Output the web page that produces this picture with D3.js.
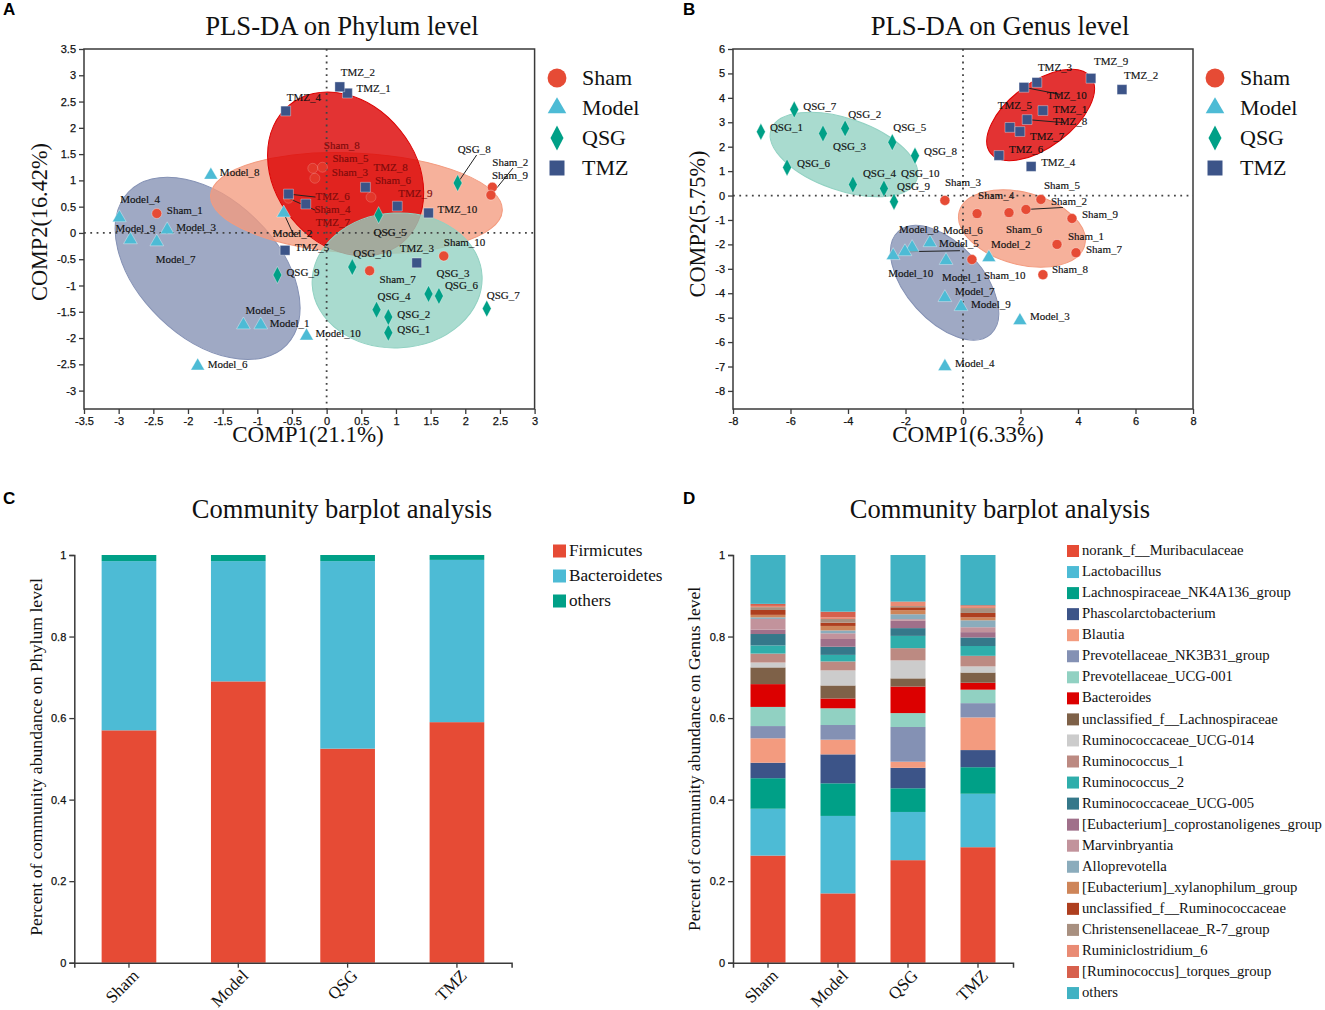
<!DOCTYPE html>
<html><head><meta charset="utf-8">
<script src="https://cdn.jsdelivr.net/npm/d3@7"></script>
<style>html,body{margin:0;padding:0;background:#fff}svg{display:block}</style>
</head><body><svg id="c" width="1325" height="1010"></svg>
<script>
// ---------- PLS-DA scores ----------
const phylumSham=[["Sham_1",-2.45,.37],["Sham_2",2.39,.87],["Sham_3",-.17,1.04],["Sham_4",-.55,.66],["Sham_5",-.06,1.25],["Sham_6",.64,.68],["Sham_7",.62,-.72],["Sham_8",-.2,1.23],["Sham_9",2.37,.72],["Sham_10",1.69,-.44]];
const phylumModel=[["Model_1",-.95,-1.75],["Model_2",-.62,.38],["Model_3",-2.3,.06],["Model_4",-2.99,.29],["Model_5",-1.2,-1.75],["Model_6",-1.86,-2.53],["Model_7",-2.45,-.17],["Model_8",-1.67,1.1],["Model_9",-2.83,-.13],["Model_10",-.29,-1.96]];
const phylumQSG=[["QSG_1",.89,-1.9],["QSG_2",.89,-1.6],["QSG_3",1.47,-1.16],["QSG_4",.72,-1.46],["QSG_5",.75,.34],["QSG_6",1.62,-1.2],["QSG_7",2.31,-1.44],["QSG_8",1.89,.95],["QSG_9",-.71,-.8],["QSG_10",.37,-.65]];
const phylumTMZ=[["TMZ_1",.3,2.66],["TMZ_2",.19,2.78],["TMZ_3",1.3,-.57],["TMZ_4",-.59,2.32],["TMZ_5",-.6,-.33],["TMZ_6",-.55,.74],["TMZ_7",-.3,.55],["TMZ_8",.56,.87],["TMZ_9",1.02,.51],["TMZ_10",1.47,.38]];
const genusSham=[["Sham_1",3.27,-2],["Sham_2",2.19,-.57],["Sham_3",-.63,-.2],["Sham_4",.49,-.74],["Sham_5",2.71,-.16],["Sham_6",1.6,-.7],["Sham_7",3.93,-2.34],["Sham_8",2.78,-3.24],["Sham_9",3.79,-.94],["Sham_10",.31,-2.62]];
const genusModel=[["Model_1",-.59,-2.66],["Model_2",.9,-2.54],["Model_3",1.98,-5.12],["Model_4",-.63,-7],["Model_5",-1.77,-2.13],["Model_6",-2.02,-2.3],["Model_7",-.63,-4.18],["Model_8",-1.15,-1.93],["Model_9",-.07,-4.55],["Model_10",-2.43,-2.46]];
const genusQSG=[["QSG_1",-7.03,2.61],["QSG_2",-4.1,2.75],["QSG_3",-4.87,2.54],["QSG_4",-3.83,.45],["QSG_5",-2.46,2.18],["QSG_6",-6.12,1.15],["QSG_7",-5.87,3.52],["QSG_8",-1.67,1.63],["QSG_9",-2.4,-.25],["QSG_10",-2.75,.29]];
const genusTMZ=[["TMZ_1",2.78,3.48],["TMZ_2",5.53,4.34],["TMZ_3",2.57,4.63],["TMZ_4",2.37,1.19],["TMZ_5",1.63,2.79],["TMZ_6",1.25,1.64],["TMZ_7",1.98,2.62],["TMZ_8",2.23,3.11],["TMZ_9",4.45,4.8],["TMZ_10",2.12,4.43]];
// ellipses: centre x, centre y, semi-axis a (x units), semi-axis b (y units)
const phylumEllipses={Model:[-1.717,-.675,1.587,1.312],Sham:[.43,.57,2.107,.95],TMZ:[.274,1.122,1.284,1.331],QSG:[1.017,-.903,1.227,1.283]};
const genusEllipses={Model:[-.64,-3.57,2.4,1.557],Sham:[2.05,-1.35,2.26,1.475],TMZ:[2.7,3.3,2.19,1.31],QSG:[-4.14,1.68,2.68,1.475]};
const groups=["Sham","Model","QSG","TMZ"];
// ---------- composition ----------
const phylumTaxa=["Firmicutes","Bacteroidetes","others"];
const phylumValues=[[.57,.415,.015],[.69,.295,.015],[.525,.46,.015],[.59,.398,.012]];
const genusTaxa=["norank_f__Muribaculaceae","Lactobacillus","Lachnospiraceae_NK4A136_group","Phascolarctobacterium","Blautia","Prevotellaceae_NK3B31_group","Prevotellaceae_UCG-001","Bacteroides","unclassified_f__Lachnospiraceae","Ruminococcaceae_UCG-014","Ruminococcus_1","Ruminococcus_2","Ruminococcaceae_UCG-005","[Eubacterium]_coprostanoligenes_group","Marvinbryantia","Alloprevotella","[Eubacterium]_xylanophilum_group","unclassified_f__Ruminococcaceae","Christensenellaceae_R-7_group","Ruminiclostridium_6","[Ruminococcus]_torques_group","others"];
const genusSham_=[.263,.115,.075,.038,.060,.030,.047,.056,.041,.012,.022,.020,.028,.011,.026,.004,.006,.012,.007,.003,.005,.120];
const genusModel_=[.170,.190,.080,.071,.036,.036,.041,.024,.032,.037,.022,.016,.020,.019,.014,.007,.011,.008,.009,.004,.014,.139];
const genusQSG_=[.251,.118,.058,.050,.015,.085,.034,.065,.020,.044,.030,.030,.019,.018,.004,.012,.010,.007,.003,.010,.001,.114];
const genusTMZ_=[.283,.131,.065,.042,.080,.035,.033,.017,.025,.015,.026,.024,.021,.013,.012,.017,.007,.011,.012,.004,.003,.123];
const xTicksPhylum=["-3.5","-3","-2.5","-2","-1.5","-1","-0.5","0","0.5","1","1.5","2","2.5","3"];
const yTicksPhylum=["-3","-2.5","-2","-1.5","-1","-0.5","0","0.5","1","1.5","2","2.5","3","3.5"];
const xTicksGenus=["-8","-6","-4","-2","0","2","4","6","8"];
const yTicksGenus=["-8","-7","-6","-5","-4","-3","-2","-1","0","1","2","3","4","5","6"];
const pctTicks=["0","0.2","0.4","0.6","0.8","1"];

// ---------- layout-only tables ----------
const labelNudgeA={Sham_1:[10,-2],Sham_2:[0,-24],Sham_9:[1,-19],Sham_8:[11,-22],Sham_5:[10,-8],Sham_3:[17,-5],Sham_6:[4,-16],Sham_4:[26,12],Sham_7:[10,10],Sham_10:[0,-13],Model_4:[1,-17],Model_9:[-15,-10],Model_3:[9,-1],Model_7:[-1,19],Model_8:[9,-2],Model_2:[-11,21],Model_5:[2,-13],Model_1:[9,0],Model_10:[9,-1],Model_6:[10,0],QSG_8:[0,-33],QSG_5:[-5,18],QSG_10:[1,-13],QSG_9:[9,-2],QSG_3:[8,-19],QSG_6:[6,-10],QSG_7:[0,-12],QSG_4:[1,-12],QSG_2:[9,-2],QSG_1:[9,-2],TMZ_2:[1,-13],TMZ_1:[9,-4],TMZ_4:[1,-13],TMZ_8:[8,-19],TMZ_9:[1,-12],TMZ_10:[9,-3],TMZ_6:[27,3],TMZ_7:[10,19],TMZ_5:[10,-2],TMZ_3:[-17,-13]};
const labelNudgeB={QSG_1:[9,-3],QSG_7:[9,-2],QSG_3:[10,14],QSG_2:[3,-13],QSG_5:[1,-14],QSG_8:[9,-3],QSG_6:[10,-3],QSG_4:[10,-10],QSG_10:[17,-14],QSG_9:[3,-14],Sham_3:[0,-17],Sham_5:[3,-13],Sham_4:[1,-17],Sham_6:[-3,18],Sham_2:[25,-7],Sham_9:[10,-3],Sham_1:[11,-7],Sham_7:[10,-2],Sham_8:[9,-4],Sham_10:[12,17],Model_8:[-31,-12],Model_5:[27,-3],Model_6:[38,-20],Model_10:[-5,19],Model_1:[-4,18],Model_2:[2,-12],Model_7:[10,-5],Model_9:[10,-1],Model_3:[10,-3],Model_4:[10,-2],TMZ_10:[23,9],TMZ_3:[1,-14],TMZ_9:[3,-16],TMZ_2:[2,-13],TMZ_1:[10,0],TMZ_8:[26,3],TMZ_5:[-12,-21],TMZ_7:[10,6],TMZ_6:[10,-5],TMZ_4:[10,-3]};
const leadersA=[["QSG_8",19,-28],["Sham_9",22,-27],["TMZ_6",27,3],["Sham_4",27,12],["Model_2",10,22]];
const leadersB=[["Sham_2",37,-2],["Model_6",55,-1],["TMZ_10",36,7],["TMZ_8",36,3]];
const shamUnderRedA=["Sham_3","Sham_4","Sham_5","Sham_6","Sham_8"];
const darkLabelsA=["Sham_8","Sham_5","Sham_3","Sham_6","Sham_4","TMZ_8","TMZ_9","TMZ_6","TMZ_7"];
const ellipseTiltA={Model:44,Sham:3,TMZ:51,QSG:-3};
const ellipseTiltB={Model:48,Sham:15,TMZ:-37,QSG:19};
const groupColor={Sham:"#E64B35",Model:"#4DBBD5",QSG:"#00A087",TMZ:"#3C5488"};
const ellipseColor={Sham:"#F39B7F",Model:"#8491B4",QSG:"#91D1C2",TMZ:"#DC0000"};
const phylumColors=["#E64B35","#4DBBD5","#00A087"];
const genusColors=["#E64B35","#4DBBD5","#00A087","#3C5488","#F39B7F","#8491B4","#91D1C2","#DC0000","#7E6148","#CCCCCC","#BC8A82","#2FAEAB","#35788A","#A0708A","#C2939C","#8BACBC","#CE8559","#AE3F1F","#A89080","#E98B74","#D7604D","#40B2C3"];

const SERIF="'Liberation Serif','Times New Roman',serif", SANS="'Liberation Sans',Arial,sans-serif";
const svg=d3.select("#c");
const AXIS="#3a3a3a";

const narrowDiamond={draw(ctx,size){const h=Math.sqrt(size);ctx.moveTo(0,-h);ctx.lineTo(h*.52,0);ctx.lineTo(0,h);ctx.lineTo(-h*.52,0);ctx.closePath();}};
const symbolType={Sham:d3.symbolCircle,Model:d3.symbolTriangle,QSG:narrowDiamond,TMZ:d3.symbolSquare};
const markSize={Sham:78,Model:82,QSG:72,TMZ:96};
const legendSize={Sham:280,Model:150,QSG:156,TMZ:225};
const symbolPath=(n,s)=>d3.symbol().type(symbolType[n]).size(s)();

function text(g,x,y,s,size,fam,opt={}){
  const t=g.append("text").attr("x",x).attr("y",y).text(s).attr("font-size",size).attr("font-family",fam).attr("fill",opt.fill||"#111");
  if(opt.anchor)t.attr("text-anchor",opt.anchor);
  if(opt.weight)t.attr("font-weight",opt.weight);
  if(opt.rotate!==undefined)t.attr("transform",`rotate(${opt.rotate} ${x} ${y})`);
  if(opt.middle)t.attr("dominant-baseline","middle");
  if(opt.stroke)t.attr("stroke",opt.fill||"#111").attr("stroke-width",opt.stroke);
  return t;
}

function scatter(o){
  const g=svg.append("g");
  const x=d3.scaleLinear().domain(o.xDom).range(o.xRange);
  const y=d3.scaleLinear().domain(o.yDom).range(o.yRange);
  const [L,R]=o.xRange,[B,T]=o.yRange;
  const ellipse=(par,name)=>{
    const e=o.ellipses[name];
    par.append("ellipse").attr("cx",x(e[0])).attr("cy",y(e[1]))
      .attr("rx",x(e[0]+e[2])-x(e[0])).attr("ry",y(e[1])-y(e[1]+e[3]))
      .attr("transform",`rotate(${o.tilt[name]} ${x(e[0])} ${y(e[1])})`)
      .attr("fill",ellipseColor[name]).attr("fill-opacity",name==="TMZ"?.8:.78)
      .attr("stroke",ellipseColor[name]).attr("stroke-width",1);
  };
  const marks=(par,name,rows,op=1)=>{
    par.selectAll(null).data(rows).join("path").attr("d",symbolPath(name,markSize[name]))
      .attr("transform",d=>`translate(${x(d[1])},${y(d[2])})`)
      .attr("fill",groupColor[name]).attr("fill-opacity",op).attr("stroke","#ffffff").attr("stroke-opacity",.45*op).attr("stroke-width",.8);
  };
  ellipse(g,"Model"); ellipse(g,"Sham");
  ellipse(g,"TMZ"); ellipse(g,"QSG");
  const under=o.under||[];
  g.append("line").attr("x1",L).attr("x2",R).attr("y1",y(0)).attr("y2",y(0)).attr("stroke","#444").attr("stroke-width",1.8).attr("stroke-dasharray","1.8 4.5");
  g.append("line").attr("x1",x(0)).attr("x2",x(0)).attr("y1",T).attr("y2",B).attr("stroke","#444").attr("stroke-width",1.8).attr("stroke-dasharray","1.8 4.5");
  const all=groups.flatMap(n=>o.data[n]);
  o.leaders.forEach(([n,dx,dy])=>{const d=all.find(r=>r[0]===n);
    g.append("line").attr("x1",x(d[1])).attr("y1",y(d[2])).attr("x2",x(d[1])+dx).attr("y2",y(d[2])+dy).attr("stroke","#222").attr("stroke-width",1);});
  marks(g,"Sham",o.data.Sham.filter(d=>under.includes(d[0])),.5);
  marks(g,"Sham",o.data.Sham.filter(d=>!under.includes(d[0])));
  marks(g,"Model",o.data.Model); marks(g,"QSG",o.data.QSG); marks(g,"TMZ",o.data.TMZ);
  all.forEach(d=>{const n=o.nudge[d[0]];
    text(g,x(d[1])+n[0],y(d[2])+n[1],d[0],11,SERIF,{middle:true,stroke:.15,fill:(o.dark||[]).includes(d[0])?"#7f0b0b":"#111"});});
  g.append("rect").attr("x",L).attr("y",T).attr("width",R-L).attr("height",B-T).attr("fill","none").attr("stroke",AXIS).attr("stroke-width",1.5);
  const ax=d3.axisBottom(x).tickValues(o.xTicks.map(Number)).tickFormat((d,i)=>o.xTicks[i]).tickSize(5).tickPadding(3);
  const ay=d3.axisLeft(y).tickValues(o.yTicks.map(Number)).tickFormat((d,i)=>o.yTicks[i]).tickSize(5).tickPadding(3);
  [[ax,`translate(0,${B})`],[ay,`translate(${L},0)`]].forEach(([a,t])=>{
    const s=g.append("g").attr("transform",t).call(a);
    s.select(".domain").remove();
    s.selectAll("line").attr("stroke",AXIS).attr("stroke-width",1.3);
    s.selectAll("text").attr("font-family",SANS).attr("font-size",11).attr("fill","#111").attr("stroke","#111").attr("stroke-width",.25);
  });
  text(g,o.titleX,35,o.title,26.7,SERIF,{anchor:"middle"});
  text(g,o.xLabelX,442,o.xLabel,23,SERIF,{anchor:"middle"});
  text(g,o.yLabelX,o.yLabelY,o.yLabel,22.3,SERIF,{anchor:"middle",rotate:-90});
  groups.forEach((n,i)=>{
    const yy=78+i*30;
    g.append("path").attr("d",symbolPath(n,legendSize[n]))
      .attr("transform",`translate(${o.legendX},${yy})`).attr("fill",groupColor[n]);
    text(g,o.legendX+25,yy+7,n,22,SERIF);
  });
}

function bars(o){
  const g=svg.append("g");
  const x=d3.scaleBand().domain(groups).range(o.xRange).paddingInner(.5).paddingOuter(.25);
  const y=d3.scaleLinear().domain([0,1]).range([962.7,555]);
  const rows=groups.map((n,i)=>Object.fromEntries(o.taxa.map((t,j)=>[t,o.values[i][j]])));
  const series=d3.stack().keys(o.taxa).offset(d3.stackOffsetExpand)(rows);
  series.forEach((s,k)=>{
    g.selectAll(null).data(s).join("rect")
      .attr("x",(d,i)=>x(groups[i])).attr("width",x.bandwidth())
      .attr("y",d=>y(d[1])).attr("height",d=>y(d[0])-y(d[1]))
      .attr("fill",o.colors[k]);
  });
  const ax=d3.axisBottom(x).tickSize(5).tickPadding(4);
  const xg=g.append("g").attr("transform","translate(0,962.7)").call(ax);
  xg.select(".domain").attr("stroke",AXIS).attr("stroke-width",1.5);
  xg.selectAll("line").attr("stroke",AXIS).attr("stroke-width",1.3);
  xg.selectAll("text").attr("font-family",SERIF).attr("font-size",17).attr("fill","#111")
    .attr("text-anchor","end").attr("x",0).attr("y",0).attr("dy",0).attr("transform","translate(11,14) rotate(-45)");
  const ay=d3.axisLeft(y).tickValues(o.yTicks.map(Number)).tickFormat((d,i)=>o.yTicks[i]).tickSize(5).tickPadding(3);
  const yg=g.append("g").attr("transform",`translate(${o.xRange[0]},0)`).call(ay);
  yg.select(".domain").attr("stroke",AXIS).attr("stroke-width",1.5);
  yg.selectAll("line").attr("stroke",AXIS).attr("stroke-width",1.3);
  yg.selectAll("text").attr("font-family",SANS).attr("font-size",11).attr("fill","#111").attr("stroke","#111").attr("stroke-width",.25);
  text(g,o.titleX,518,"Community barplot analysis",26.5,SERIF,{anchor:"middle"});
  text(g,o.yLabelX,o.yLabelY,o.yLabel,o.yLabelSize,SERIF,{anchor:"middle",rotate:-90});
  o.taxa.forEach((t,i)=>{
    const yy=o.legendY+i*o.legendStep;
    g.append("rect").attr("x",o.legendX).attr("y",yy-o.sw/2).attr("width",o.sw).attr("height",o.sw).attr("fill",o.colors[i]);
    text(g,o.legendX+o.sw+3,yy+o.fs*.28,t,o.fs,SERIF);
  });
}

scatter({xDom:[-3.5,3],xRange:[84,534.6],yDom:[-3.35,3.5],yRange:[409,49],
  data:{Sham:phylumSham,Model:phylumModel,QSG:phylumQSG,TMZ:phylumTMZ},ellipses:phylumEllipses,tilt:ellipseTiltA,
  nudge:labelNudgeA,leaders:leadersA,under:shamUnderRedA,dark:darkLabelsA,xTicks:xTicksPhylum,yTicks:yTicksPhylum,
  title:"PLS-DA on Phylum level",titleX:342,xLabel:"COMP1(21.1%)",xLabelX:308,yLabel:"COMP2(16.42%)",yLabelX:47,yLabelY:222,legendX:557});
scatter({xDom:[-8,8],xRange:[733,1193],yDom:[-8.74,6],yRange:[409,49],
  data:{Sham:genusSham,Model:genusModel,QSG:genusQSG,TMZ:genusTMZ},ellipses:genusEllipses,tilt:ellipseTiltB,
  nudge:labelNudgeB,leaders:leadersB,xTicks:xTicksGenus,yTicks:yTicksGenus,
  title:"PLS-DA on Genus level",titleX:1000,xLabel:"COMP1(6.33%)",xLabelX:968,yLabel:"COMP2(5.75%)",yLabelX:705,yLabelY:224,legendX:1215});
bars({xRange:[74.3,511.6],taxa:phylumTaxa,values:phylumValues,colors:phylumColors,yTicks:pctTicks,titleX:342,
  yLabel:"Percent of community abundance on Phylum level",yLabelX:42,yLabelY:757,yLabelSize:17.7,legendX:553,legendY:551,legendStep:25,sw:13,fs:17.2});
bars({xRange:[733,1013],taxa:genusTaxa,values:[genusSham_,genusModel_,genusQSG_,genusTMZ_],colors:genusColors,yTicks:pctTicks,titleX:1000,
  yLabel:"Percent of community abundance on Genus level",yLabelX:700,yLabelY:759,yLabelSize:17.5,legendX:1067,legendY:551,legendStep:21.05,sw:12,fs:14.7});

[["A",3,15],["B",683,15],["C",3,504],["D",683,504]].forEach(([s,x,y])=>text(svg,x,y,s,17,SANS,{weight:"bold",fill:"#000"}));
</script></body></html>
